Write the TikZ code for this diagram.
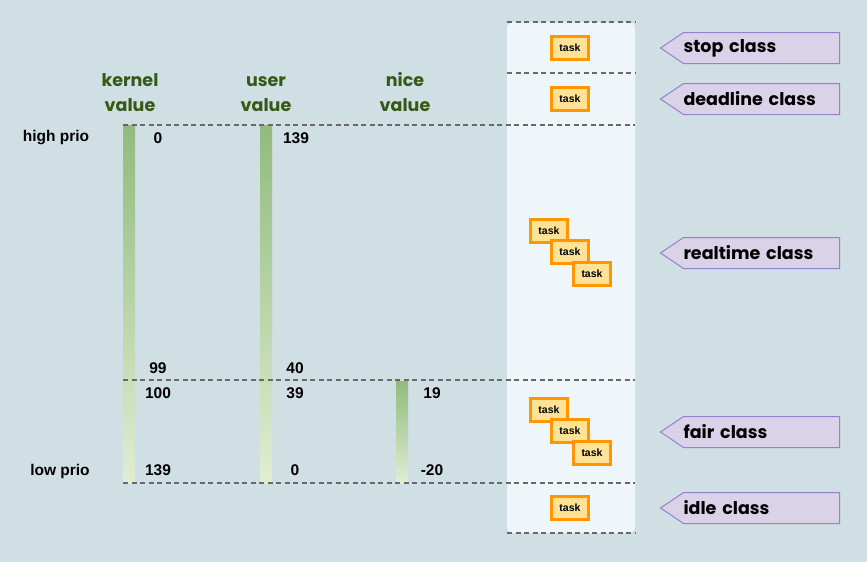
\documentclass[tikz,border=0pt]{standalone}
\usepackage{fontspec}
\setmainfont{Liberation Sans}
\newfontfamily\popfont{Poppins}
\usepackage{tikz}
\usetikzlibrary{positioning,shapes.symbols}
\definecolor{bgcol}{RGB}{208,223,227}
\definecolor{panelcol}{RGB}{238,246,249}
\definecolor{dashcol}{RGB}{105,105,105}
\definecolor{bardark}{RGB}{145,187,125}
\definecolor{barlight}{RGB}{224,237,210}
\definecolor{headgreen}{RGB}{52,90,22}
\definecolor{taskfill}{RGB}{255,226,150}
\definecolor{taskdraw}{RGB}{255,150,0}
\definecolor{clsfill}{RGB}{218,210,233}
\definecolor{clsdraw}{RGB}{150,130,200}
\tikzset{
  task/.style={draw=taskdraw, line width=3pt, fill=taskfill, minimum width=37pt, minimum height=23pt, inner sep=0pt, font=\fontsize{10.5}{12}\selectfont\bfseries},
  cls/.style={signal, signal to=west, signal pointer angle=68, draw=clsdraw, line width=1pt, fill=clsfill, minimum height=31pt, text width=156pt, align=left, inner xsep=0pt, font=\popfont\fontsize{17.5}{20}\selectfont\bfseries, anchor=east},
  head/.style={align=center, text=headgreen, font=\popfont\fontsize{17.5}{25}\selectfont\bfseries},
  num/.style={font=\fontsize{15.5}{17}\selectfont\bfseries},
  sep/.style={draw=dashcol, line width=1.1pt, dash pattern=on 5pt off 3.5pt}
}
\begin{document}
\begin{tikzpicture}[x=1pt,y=-1pt]
        \fill[bgcol] (0,0) rectangle (867,562);
        \useasboundingbox (0,0) rectangle (867,562);
        % class column
        \fill[panelcol, rounded corners=6pt] (507,22) rectangle (635,533);
        % priority bars
        \shade[top color=bardark, bottom color=barlight] (123,125) rectangle (135,483);
        \shade[top color=bardark, bottom color=barlight] (260,125) rectangle (272,483);
        \shade[top color=bardark, bottom color=barlight] (396,381) rectangle (408,483);
        % separators
        \draw[sep] (507,22) -- (635,22);
        \draw[sep] (507,73) -- (635,73);
        \draw[sep] (123,125) -- (635,125);
        \draw[sep] (123,380) -- (635,380);
        \draw[sep] (123,483) -- (635,483);
        \draw[sep] (507,533) -- (635,533);
        % headings
        \node[head] (hk) at (130,93.5) {\strut kernel\\\strut value};
        \node[head] (hu) at (266,93.5) {\strut user\\\strut value};
        \node[head] (hn) at (405,93.5) {\strut nice\\\strut value};
        \node[num] (hp) at (56,138) {high prio};
        \node[num] (lp) at (60,471) {low prio};
        % values
        \node[num] (k0) at (158,138) {0};
        \node[num] (u0) at (296,138) {139};
        \node[num] (k1) at (158,368) {99};
        \node[num] (u1) at (295,368) {40};
        \node[num] (k2) at (158,393) {100};
        \node[num] (u2) at (295,393) {39};
        \node[num] (n2) at (432,393) {19};
        \node[num] (k3) at (158,470) {139};
        \node[num] (u3) at (295,470) {0};
        \node[num] (n3) at (432,470) {-20};
        % tasks
        \node[task] (t1) at (570,48) {task};
        \node[task] (t2) at (570,99) {task};
        \node[task] (r1) at (549,231) {task};
        \node[task] (r2) at (570,252) {task};
        \node[task] (r3) at (592,274) {task};
        \node[task] (f1) at (549,410) {task};
        \node[task] (f2) at (570,431) {task};
        \node[task] (f3) at (592,453) {task};
        \node[task] (t3) at (570,508) {task};
        % classes
        \node[cls] (cstop) at (840,48) {stop class};
        \node[cls] (cdl) at (840,99) {deadline class};
        \node[cls] (crt) at (840,253) {realtime class};
        \node[cls] (cfair) at (840,432) {fair class};
        \node[cls] (cidle) at (840,508) {idle class};
      \end{tikzpicture}
\end{document}
